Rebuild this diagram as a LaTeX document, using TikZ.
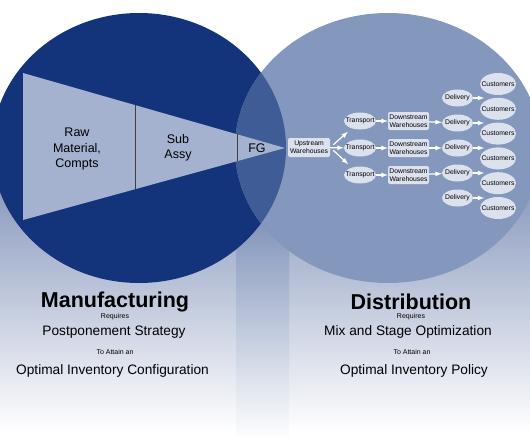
\documentclass[tikz,border=0pt]{standalone}
\usepackage{fontspec}
\setmainfont{Liberation Sans}
\usetikzlibrary{calc, shapes}

\definecolor{mfgblue}{HTML}{13347A}
\definecolor{distblue}{HTML}{8398BC}
\definecolor{lensblue}{HTML}{3F5C96}
\definecolor{funnelgray}{HTML}{A4B1CF}
\definecolor{nodefill}{HTML}{DCE1EE}
\definecolor{bgtop}{HTML}{8A9ABE}
\definecolor{striptop}{HTML}{7F92B9}

\newcommand{\flowfont}{\fontsize{6.8}{8.3}\selectfont}

\begin{document}
\begin{tikzpicture}[x=1pt, y=-1pt, >=latex]
    \tikzstyle{box} = [rectangle, fill=nodefill, rounded corners=2pt, align=center, font=\flowfont, minimum width=42pt, minimum height=19pt, inner sep=1pt]
    \tikzstyle{oval} = [ellipse, fill=nodefill, font=\flowfont, inner xsep=-6pt, inner ysep=0pt, minimum width=32pt, minimum height=17pt]
    \tikzstyle{custoval} = [oval, inner xsep=-8pt, minimum width=36pt, minimum height=22pt]
    \tikzstyle{flow} = [->, white, line width=1.2pt]
    \tikzstyle{divider} = [draw=black!75, line width=.8pt]
    \tikzstyle{stage} = [align=center, font=\fontsize{12.5}{15.5}\selectfont, inner sep=0]
    \tikzstyle{title} = [font=\fontsize{21.5}{24}\selectfont\bfseries, inner sep=0]
    \tikzstyle{goal} = [font=\fontsize{13.7}{16}\selectfont, inner sep=0]
    \tikzstyle{small} = [font=\fontsize{7}{8}\selectfont, inner sep=0]

    \useasboundingbox (0,0) rectangle (530,442);
    \clip (0,0) rectangle (530,442);

    % Background ----------------------------------------
    \fill[white] (0,0) rectangle (530,442);
    \shade[top color=bgtop, bottom color=white] (0,185) rectangle (530,432);
    \shade[top color=striptop, bottom color=white] (236,215) rectangle (289,440);

    % Circles -------------------------------------------
    \coordinate (mc) at (139,148);
    \coordinate (dc) at (388,148);
    \fill[mfgblue] (mc) ellipse [x radius=147, y radius=135];
    \fill[distblue] (dc) ellipse [x radius=153, y radius=135];
    \begin{scope}
        \clip (mc) ellipse [x radius=147, y radius=135];
        \fill[lensblue] (dc) ellipse [x radius=153, y radius=135];
    \end{scope}

    % Funnel --------------------------------------------
    \coordinate (ftop) at (23,73);
    \coordinate (fbot) at (23,220);
    \coordinate (ftip) at (285,148);
    \fill[funnelgray] (ftop) -- (ftip) -- (fbot) -- cycle;
    \draw[divider] ($(ftop)!.4275!(ftip)$) -- ($(fbot)!.4275!(ftip)$);
    \draw[divider] ($(ftop)!.817!(ftip)$) -- ($(fbot)!.817!(ftip)$);

    \node[stage] (raw) at (77,149) {Raw\\Material,\\Compts};
    \node[stage] (sub) at (178,148) {Sub\\Assy};
    \node[stage] (fg) at (257,148) {FG};

    % Distribution network ------------------------------
    \node[box] (up) at (309,147.5) {Upstream\\Warehouses};

    \node[oval] (tr2) at ($(up) + (51,0.5)$) {Transport};
    \node[oval] (tr1) at ($(tr2) + (0,-27)$) {Transport};
    \node[oval] (tr3) at ($(tr2) + (0,27)$) {Transport};

    \node[box, minimum width=41pt, minimum height=18pt] (dw1) at ($(tr1) + (48.5,0)$) {Downstream\\Warehouses};
    \node[box, minimum width=41pt, minimum height=18pt] (dw2) at ($(tr2) + (48.5,0)$) {Downstream\\Warehouses};
    \node[box, minimum width=41pt, minimum height=18pt] (dw3) at ($(tr3) + (48.5,0)$) {Downstream\\Warehouses};

    \node[oval, minimum width=31pt] (dl3) at ($(dw2) + (49,0)$) {Delivery};
    \node[oval, minimum width=31pt] (dl2) at ($(dl3) + (0,-25)$) {Delivery};
    \node[oval, minimum width=31pt] (dl1) at ($(dl2) + (0,-25)$) {Delivery};
    \node[oval, minimum width=31pt] (dl4) at ($(dl3) + (0,25)$) {Delivery};
    \node[oval, minimum width=31pt] (dl5) at ($(dl4) + (0,25)$) {Delivery};

    \node[custoval] (cu1) at (498,84) {Customers};
    \node[custoval] (cu2) at ($(cu1) + (0,24.8)$) {Customers};
    \node[custoval] (cu3) at ($(cu2) + (0,24.8)$) {Customers};
    \node[custoval] (cu4) at ($(cu3) + (0,24.8)$) {Customers};
    \node[custoval] (cu5) at ($(cu4) + (0,24.8)$) {Customers};
    \node[custoval] (cu6) at ($(cu5) + (0,24.8)$) {Customers};

    % Flow arrows
    \draw[flow, shorten <=4pt, shorten >=5pt] (up.east) -- (tr1);
    \draw[flow] (up) -- (tr2);
    \draw[flow, shorten <=4pt, shorten >=5pt] (up.east) -- (tr3);

    \draw[flow] (tr1) -- (dw1);
    \draw[flow] (tr2) -- (dw2);
    \draw[flow] (tr3) -- (dw3);

    \draw[flow] (dw1) -- (dl2);
    \draw[flow] (dw2) -- (dl3);
    \draw[flow] (dw3) -- (dl4);

    \coordinate (dlend1) at ($(dl1.east) + (11,0)$);
    \coordinate (dlend2) at ($(dl2.east) + (11,0)$);
    \coordinate (dlend3) at ($(dl3.east) + (11,0)$);
    \coordinate (dlend4) at ($(dl4.east) + (11,0)$);
    \coordinate (dlend5) at ($(dl5.east) + (11,0)$);
    \draw[flow] (dl1) -- (dlend1);
    \draw[flow] (dl2) -- (dlend2);
    \draw[flow] (dl3) -- (dlend3);
    \draw[flow] (dl4) -- (dlend4);
    \draw[flow] (dl5) -- (dlend5);

    % Captions ------------------------------------------
    \node[title] (mfg) at (115,302) {Manufacturing};
    \node[small] (mfgreq) at ($(mfg) + (0,15)$) {Requires};
    \node[goal] (mfgstrat) at ($(mfg) + (-1,30)$) {Postponement Strategy};
    \node[small] (mfgatt) at ($(mfg) + (0,50)$) {To Attain an};
    \node[goal] (mfggoal) at ($(mfg) + (-2.5,69)$) {Optimal Inventory Configuration};

    \node[title] (dist) at (411,302) {Distribution};
    \node[small] (distreq) at ($(dist) + (0,15)$) {Requires};
    \node[goal] (diststrat) at ($(dist) + (-3,30)$) {Mix and Stage Optimization};
    \node[small] (distatt) at ($(dist) + (1,50)$) {To Attain an};
    \node[goal] (distgoal) at ($(dist) + (3,69)$) {Optimal Inventory Policy};
\end{tikzpicture}
\end{document}
